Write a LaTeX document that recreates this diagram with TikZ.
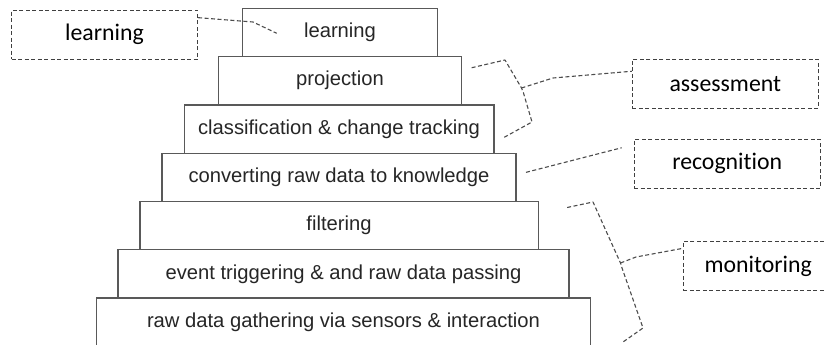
\documentclass[tikz,border=0pt]{standalone}
\usepackage{fontspec}
\setmainfont{Liberation Sans}
\newfontfamily\lblfont[Ligatures=NoCommon]{Carlito}
\usetikzlibrary{calc,positioning}

\begin{document}
\begin{tikzpicture}[x=1pt,y=-1pt,
    layer/.style={draw=black!65,line width=1.3pt,fill=white,outer sep=0pt,
      minimum height=48.3pt,inner sep=0pt,text=black!85,
      font=\fontsize{20.2}{24}\selectfont},
    stage/.style={draw=black!75,line width=1.1pt,dash pattern=on 4pt off 2.5pt,
      minimum height=49pt,minimum width=186pt,inner sep=0pt,
      font=\lblfont\fontsize{23.8}{28}\selectfont},
    link/.style={draw=black!70,line width=1.1pt,dash pattern=on 4pt off 2.5pt,
      line join=round}]
  \useasboundingbox (0,0) rectangle (824,345);
  \clip (0,0) rectangle (824,345);

  \node[layer,minimum width=194.6pt] (learn) at (340,32.45) {learning};
  \node[layer,minimum width=243.3pt,below=0pt of learn] (proj) {projection};
  \node[layer,minimum width=309.7pt,below=0pt of proj,xshift=-1pt] (class)
    {classification \& change tracking};
  \node[layer,minimum width=354pt,below=0pt of class] (conv)
    {converting raw data to knowledge};
  \node[layer,minimum width=398.3pt,below=0pt of conv] (filt) {filtering};
  \node[layer,minimum width=451pt,below=0pt of filt,xshift=4.5pt] (event)
    {event triggering \& and raw data passing};
  \node[layer,minimum width=494.3pt,below=0pt of event] (raw)
    {raw data gathering via sensors \& interaction};

  \node[stage] (s-learn) at (104.5,34.7) {learning};
  \node[stage] (s-assess) at (725.3,83.8) {assessment};
  \node[stage] (s-recog) at (727.2,163.8) {recognition};
  \node[stage,anchor=west,minimum width=150pt] (s-mon) at (682.7,265.9)
    {monitoring};

  \draw[link] ($(s-learn.north east)+(0,8)$) -- (253,22)
    -- ($(learn.north west)+(34,25)$);

  \coordinate (a-tip) at (521.5,88);
  \draw[link] ($(proj.east)+(10,-13)$) -- (505,60) -- (a-tip)
    -- (523.5,93) -- (532,122) -- ($(class.east)+(9,9)$);
  \draw[link] (a-tip) -- (553,78) -- ($(s-assess.north west)+(0,12.5)$);

  \draw[link] ($(conv.east)+(10,-5)$) -- ($(s-recog.north west)+(-12,9)$);

  \coordinate (m-tip) at (620.5,263);
  \draw[link] ($(filt.north east)+(29,6)$) -- (593,202) -- (m-tip)
    -- (622,268) -- (643,328) -- ($(raw.east)+(32,20)$);
  \draw[link] (m-tip) -- (636,257) -- ($(s-mon.north west)+(0,7.5)$);
\end{tikzpicture}
\end{document}
